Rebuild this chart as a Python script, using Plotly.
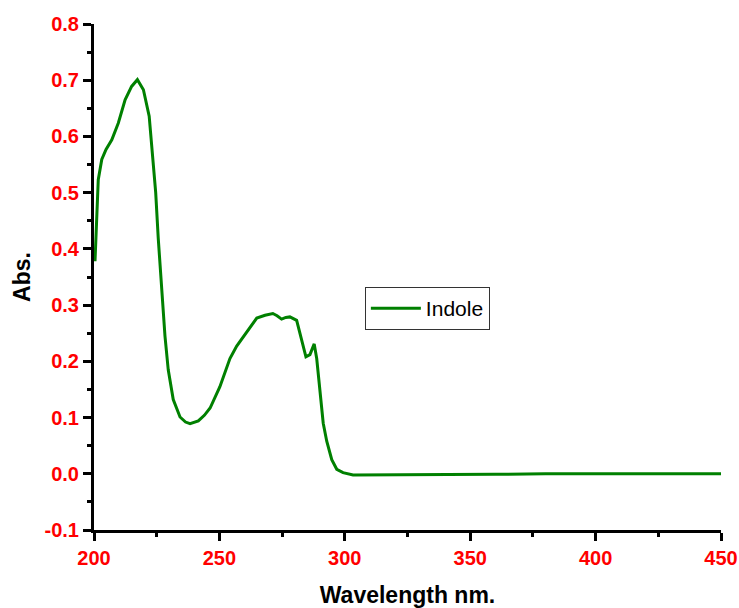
import plotly.graph_objects as go

# Data
wavelength = [200.4, 201.1, 201.7, 203.1, 204.8, 207.1, 209.7, 212.4, 215.0, 217.3,
              219.7, 222.0, 223.6, 224.6, 225.6, 226.8, 228.3, 229.6, 231.6, 234.3,
              236.5, 238.3, 241.6, 244.0, 246.3, 250.2, 254.2, 256.9, 260.9, 264.9,
              268.2, 271.3, 273.0, 274.8, 276.5, 278.1, 280.8, 282.8, 284.5, 286.1,
              287.8, 288.8, 290.1, 291.4, 292.8, 294.8, 296.8, 299.3, 303.3, 320.0,
              340.0, 360.0, 380.0, 400.0, 420.0, 440.0, 450.0]
absorbance = [0.378, 0.458, 0.523, 0.559, 0.577, 0.594, 0.624, 0.665, 0.689, 0.701,
              0.683, 0.636, 0.553, 0.500, 0.420, 0.345, 0.245, 0.185, 0.132, 0.101,
              0.092, 0.089, 0.094, 0.104, 0.117, 0.155, 0.205, 0.227, 0.253, 0.277,
              0.282, 0.285, 0.281, 0.275, 0.278, 0.279, 0.273, 0.240, 0.208, 0.212,
              0.231, 0.205, 0.150, 0.090, 0.058, 0.025, 0.008, 0.002, -0.002, -0.002,
              -0.001, -0.001, 0.000, 0.000, 0.000, -0.001, 0.000]

x_ticks = [200, 250, 300, 350, 400, 450]
x_ticktext = ["200", "250", "300", "350", "400", "450"]
y_ticks = [-0.1, 0.0, 0.1, 0.2, 0.3, 0.4, 0.5, 0.6, 0.7, 0.8]
y_ticktext = ["-0.1", "0.0", "0.1", "0.2", "0.3", "0.4", "0.5", "0.6", "0.7", "0.8"]

series_name = "Indole"

fig = go.Figure()
fig.add_trace(go.Scatter(x=wavelength, y=absorbance, mode="lines", name=series_name,
                         line=dict(color="#008000", width=3), showlegend=True))

FAM = "Liberation Sans, Arial, sans-serif"
tickfont = dict(family=FAM, size=20, color="#FF0000", weight="bold")
titlefont = dict(family=FAM, size=23, color="#000000", weight="bold")

fig.update_layout(
    width=739, height=608,
    margin=dict(l=94, r=18, t=24, b=78),
    paper_bgcolor="white", plot_bgcolor="white",
    showlegend=True,
    legend=dict(x=0.432, y=0.48, xanchor="left", yanchor="top",
                bordercolor="#333333", borderwidth=1, bgcolor="white",
                font=dict(family=FAM, size=21, color="black"),
                itemwidth=50, tracegroupgap=0),
    xaxis=dict(range=[200, 450], tickvals=x_ticks, ticktext=x_ticktext, automargin=False,
               showgrid=False, zeroline=False, showline=True, linecolor="black", linewidth=3,
               ticks="outside", ticklen=8, tickwidth=3, tickcolor="black",
               minor=dict(ticks="outside", ticklen=4, tickwidth=3, tickcolor="black", dtick=25),
               tickfont=tickfont,
               title=dict(text="Wavelength nm.", font=titlefont, standoff=20)),
    yaxis=dict(range=[-0.1, 0.8], tickvals=y_ticks, ticktext=y_ticktext, automargin=False,
               showgrid=False, zeroline=False, showline=True, linecolor="black", linewidth=3,
               ticks="outside", ticklen=8, tickwidth=3, tickcolor="black",
               minor=dict(ticks="outside", ticklen=4, tickwidth=3, tickcolor="black", dtick=0.05),
               tickfont=tickfont,
               title=dict(text="Abs.", font=titlefont, standoff=8)),
)

fig.write_html("out.html",
               config={"displayModeBar": False},
               post_script="document.body.style.margin='0';document.body.style.overflow='hidden';")
